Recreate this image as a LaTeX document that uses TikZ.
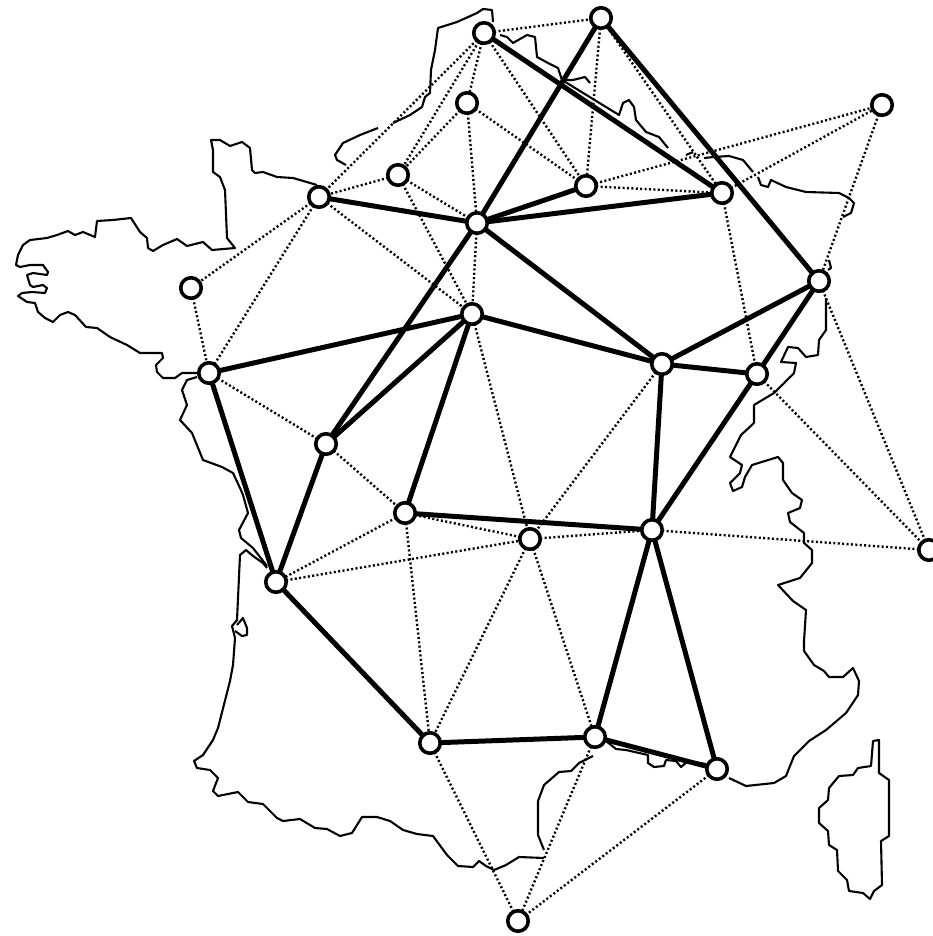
\documentclass[tikz,border=0pt]{standalone}
\begin{document}
\begin{tikzpicture}[x=1pt,y=-1pt,line join=round,
  coast/.style={line width=2.1pt},
  trunk/.style={line width=5pt},
  link/.style={line width=2.4pt,dash pattern=on 2pt off 2.4pt},
  site/.style={circle,draw,fill=white,line width=3.6pt,minimum size=20.5pt,inner sep=0pt,outer sep=0pt}]
\useasboundingbox (0,0) rectangle (932,936);
\draw[coast] (197,373) -- (182,373) -- (175,378) -- (163,378) -- (157,372) -- (156,365) -- (163,358) -- (162,353) -- (140,353) -- (127,345) -- (110,337) -- (97,328) -- (86,327) -- (75,315) -- (68,312) -- (60,315) -- (53,322) -- (45,318) -- (38,312) -- (35,303) -- (27,302) -- (18,296) -- (22,293) -- (32,292) -- (45,293) -- (47,288) -- (43,285) -- (33,287) -- (30,285) -- (27,275) -- (33,273) -- (47,275) -- (48,272) -- (43,265) -- (30,265) -- (20,267) -- (16,265) -- (18,255) -- (23,245) -- (30,240) -- (47,238) -- (57,235) -- (68,231) -- (75,235) -- (83,232) -- (95,237) -- (97,221) -- (113,220) -- (131,218) -- (140,232) -- (147,238) -- (148,248) -- (153,251) -- (163,245) -- (177,239) -- (187,246) -- (203,242) -- (212,250) -- (235,248) -- (227,238) -- (225,190) -- (220,177) -- (213,172) -- (213,150) -- (211,140) -- (220,140) -- (230,146) -- (242,142) -- (250,148) -- (252,170) -- (255,173) -- (263,172) -- (277,177) -- (293,178) -- (317,185);
\draw[coast] (346,165) -- (337,160) -- (335,155) -- (343,143) -- (360,135) -- (378,128);
\draw[coast] (393,123) -- (410,115) -- (422,107) -- (425,97) -- (430,93) -- (431,70) -- (435,50) -- (438,28) -- (457,22) -- (477,13) -- (483,9) -- (492,10) -- (493,22);
\draw[coast] (500,35) -- (507,37) -- (513,43) -- (527,35) -- (535,37) -- (537,57) -- (548,63) -- (558,68) -- (562,80) -- (619,115) -- (623,103) -- (629,100) -- (634,107) -- (636,120) -- (646,132) -- (659,137) -- (668,148);
\draw[coast] (562,80) -- (573,80) -- (585,77) -- (590,83);
\draw[coast] (686,155) -- (693,152);
\draw[coast] (704,158) -- (714,157) -- (729,156) -- (743,160) -- (753,172);
\draw[coast] (758,177) -- (761,185) -- (768,187) -- (771,180) -- (786,187) -- (806,192) -- (839,193) -- (849,198) -- (854,203) -- (851,213) -- (843,217);
\draw[coast] (829,260) -- (831,268) -- (828,270);
\draw[coast] (826,298) -- (826,330) -- (819,340) -- (818,355) -- (806,357) -- (798,348) -- (788,347) -- (781,362) -- (796,363) -- (794,373) -- (774,393) -- (754,405) -- (754,423) -- (741,435) -- (730,457) -- (742,465) -- (740,473) -- (730,483) -- (733,491) -- (742,487) -- (745,477) -- (752,465) -- (778,457) -- (783,463) -- (783,480) -- (792,493) -- (802,500) -- (800,508) -- (788,513) -- (790,522) -- (804,533) -- (804,543) -- (812,550) -- (812,563) -- (800,578) -- (778,585) -- (793,601) -- (806,610) -- (804,641) -- (804,651) -- (814,665) -- (824,671) -- (829,677) -- (843,677) -- (853,668) -- (859,681) -- (858,695) -- (846,713) -- (826,730) -- (809,741) -- (794,756) -- (786,776) -- (774,783) -- (746,786) -- (729,778);
\draw[coast] (606,741) -- (616,749) -- (626,750) -- (648,755) -- (648,763) -- (654,767) -- (664,766) -- (666,760) -- (676,761) -- (681,767) -- (688,761) -- (706,764);
\draw[coast] (593,756) -- (579,763) -- (571,771) -- (559,772) -- (544,785) -- (538,801) -- (538,835) -- (544,850);
\draw[coast] (544,858) -- (519,857) -- (506,865) -- (494,870) -- (486,866) -- (479,861) -- (473,867) -- (458,866) -- (447,855) -- (433,836) -- (417,834) -- (403,830) -- (390,821) -- (377,817) -- (362,817) -- (352,833) -- (340,836) -- (327,829) -- (315,828) -- (300,819) -- (283,821) -- (277,818) -- (263,804) -- (248,802) -- (238,792) -- (218,796) -- (213,791) -- (218,778) -- (210,770) -- (197,768) -- (194,761) -- (203,755) -- (213,740) -- (218,728) -- (230,681) -- (233,665) -- (235,638) -- (232,626) -- (237,620) -- (240,555) -- (246,550) -- (253,556) -- (263,563) -- (267,568);
\draw[coast] (237,625) -- (243,618) -- (247,628) -- (247,635) -- (242,636) -- (235,631);
\draw[coast] (197,377) -- (187,380) -- (182,390) -- (187,405) -- (180,420) -- (192,433) -- (203,460) -- (222,467) -- (233,473) -- (240,488) -- (243,495) -- (248,513) -- (239,530) -- (241,538) -- (253,548) -- (267,566);
\draw[coast] (873,741) -- (879,740) -- (879,773) -- (889,780) -- (889,836) -- (881,841) -- (882,885) -- (874,891) -- (870,899) -- (863,893) -- (849,891) -- (847,880) -- (838,871) -- (837,850) -- (829,845) -- (828,831) -- (819,823) -- (819,808) -- (828,800) -- (829,788) -- (839,776) -- (853,775) -- (858,768) -- (871,766) -- cycle;
\node[site] (quimper) at (191,288) {};
\node[site] (nantes) at (209,373) {};
\node[site] (caen) at (319,197) {};
\node[site] (rouen) at (398,175) {};
\node[site] (amiens) at (467,103) {};
\node[site] (lille) at (484,33) {};
\node[site] (bruxelles) at (601,18) {};
\node[site] (lux) at (882,105) {};
\node[site] (reims) at (586,186) {};
\node[site] (metz) at (722,193) {};
\node[site] (paris) at (477,223) {};
\node[site] (orleans) at (472,314) {};
\node[site] (tours) at (326,444) {};
\node[site] (limoges) at (405,513) {};
\node[site] (clermont) at (530,539) {};
\node[site] (lyon) at (652,530) {};
\node[site] (dijon) at (662,364) {};
\node[site] (basel) at (757,374) {};
\node[site] (strasbourg) at (819,281) {};
\node[site] (milano) at (929,550) {};
\node[site] (bordeaux) at (276,582) {};
\node[site] (toulouse) at (430,743) {};
\node[site] (montpellier) at (595,737) {};
\node[site] (marseille) at (717,769) {};
\node[site] (barcelona) at (518,921) {};
\draw[trunk] (bruxelles) -- (paris);
\draw[trunk] (bruxelles) -- (strasbourg);
\draw[trunk] (lille) -- (metz);
\draw[trunk] (caen) -- (paris);
\draw[trunk] (reims) -- (paris);
\draw[trunk] (metz) -- (paris);
\draw[trunk] (paris) -- (dijon);
\draw[trunk] (paris) -- (tours);
\draw[trunk] (orleans) -- (nantes);
\draw[trunk] (orleans) -- (tours);
\draw[trunk] (orleans) -- (limoges);
\draw[trunk] (orleans) -- (dijon);
\draw[trunk] (dijon) -- (strasbourg);
\draw[trunk] (dijon) -- (basel);
\draw[trunk] (dijon) -- (lyon);
\draw[trunk] (strasbourg) -- (basel);
\draw[trunk] (basel) -- (lyon);
\draw[trunk] (nantes) -- (bordeaux);
\draw[trunk] (tours) -- (bordeaux);
\draw[trunk] (limoges) -- (lyon);
\draw[trunk] (bordeaux) -- (toulouse);
\draw[trunk] (toulouse) -- (montpellier);
\draw[trunk] (montpellier) -- (lyon);
\draw[trunk] (lyon) -- (marseille);
\draw[trunk] (montpellier) -- (marseille);
\draw[link] (lille) -- (bruxelles);
\draw[link] (lille) -- (caen);
\draw[link] (lille) -- (rouen);
\draw[link] (lille) -- (amiens);
\draw[link] (lille) -- (reims);
\draw[link] (amiens) -- (rouen);
\draw[link] (amiens) -- (paris);
\draw[link] (amiens) -- (reims);
\draw[link] (rouen) -- (caen);
\draw[link] (rouen) -- (paris);
\draw[link] (rouen) -- (orleans);
\draw[link] (bruxelles) -- (reims);
\draw[link] (bruxelles) -- (metz);
\draw[link] (reims) -- (lux);
\draw[link] (reims) -- (metz);
\draw[link] (metz) -- (lux);
\draw[link] (lux) -- (strasbourg);
\draw[link] (metz) -- (basel);
\draw[link] (caen) -- (quimper);
\draw[link] (caen) -- (nantes);
\draw[link] (caen) -- (orleans);
\draw[link] (quimper) -- (nantes);
\draw[link] (paris) -- (orleans);
\draw[link] (orleans) -- (clermont);
\draw[link] (dijon) -- (clermont);
\draw[link] (nantes) -- (tours);
\draw[link] (tours) -- (limoges);
\draw[link] (limoges) -- (clermont);
\draw[link] (limoges) -- (bordeaux);
\draw[link] (limoges) -- (toulouse);
\draw[link] (bordeaux) -- (clermont);
\draw[link] (clermont) -- (lyon);
\draw[link] (clermont) -- (toulouse);
\draw[link] (clermont) -- (montpellier);
\draw[link] (lyon) -- (milano);
\draw[link] (basel) -- (milano);
\draw[link] (strasbourg) -- (milano);
\draw[link] (toulouse) -- (barcelona);
\draw[link] (montpellier) -- (barcelona);
\draw[link] (marseille) -- (barcelona);
\end{tikzpicture}
\end{document}
